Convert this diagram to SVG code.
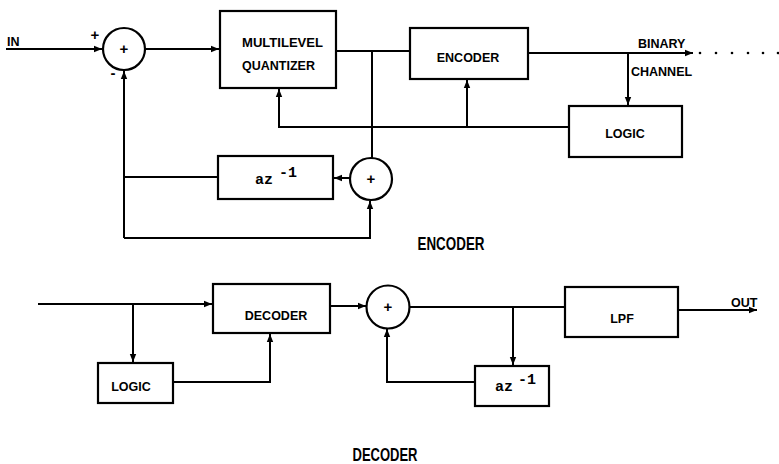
<svg xmlns="http://www.w3.org/2000/svg" width="779" height="464" viewBox="0 0 779 464">
<style>
.box{fill:#fff;stroke:#000;stroke-width:2.2}
.sum{fill:#fff;stroke:#000;stroke-width:2.2}
.ln{fill:none;stroke:#000;stroke-width:2;stroke-linejoin:miter}
.t{font-family:"Liberation Sans",Arial,sans-serif;font-weight:bold;font-size:12.5px;fill:#000}
.tc{text-anchor:middle}
.m{font-family:"Liberation Mono","Courier New",monospace;font-weight:bold;font-size:15px;fill:#000}
.big{font-family:"Liberation Sans",Arial,sans-serif;font-weight:bold;font-size:19px;fill:#000;text-anchor:middle}
.pl{font-family:"Liberation Sans",Arial,sans-serif;font-weight:bold;font-size:15px;fill:#000;text-anchor:middle}
</style>
<defs>
<marker id="ah" viewBox="0 0 10 10" refX="10" refY="5" markerWidth="4" markerHeight="4" markerUnits="strokeWidth" orient="auto">
<path d="M0,1 L10,5 L0,9 z" fill="#000"/>
</marker>
</defs>

<g id="connectors">
<!-- encoder -->
<path class="ln" d="M6,49 H102" marker-end="url(#ah)"/>
<path class="ln" d="M145,49 H219" marker-end="url(#ah)"/>
<path class="ln" d="M124,238 V71" marker-end="url(#ah)"/>
<path class="ln" d="M336,51 H409"/>
<path class="ln" d="M372,51 V158"/>
<path class="ln" d="M528,53 H693" marker-end="url(#ah)"/>
<path class="ln" d="M628,53 V105" marker-end="url(#ah)"/>
<path class="ln" d="M569,127 H279 V89" marker-end="url(#ah)"/>
<path class="ln" d="M467,127 V80" marker-end="url(#ah)"/>
<path class="ln" d="M350,178 H334" marker-end="url(#ah)"/>
<path class="ln" d="M218,177 H124"/>
<path class="ln" d="M124,238 H370 V201" marker-end="url(#ah)"/>
<g fill="#000">
<circle cx="700" cy="53" r="1.3"/><circle cx="716" cy="53" r="1.3"/><circle cx="732" cy="53" r="1.3"/><circle cx="748" cy="53" r="1.3"/><circle cx="763" cy="53" r="1.3"/><circle cx="778" cy="53" r="1.3"/>
</g>
<!-- decoder -->
<path class="ln" d="M38,304 H212" marker-end="url(#ah)"/>
<path class="ln" d="M133,304 V362" marker-end="url(#ah)"/>
<path class="ln" d="M173,382 H270 V334" marker-end="url(#ah)"/>
<path class="ln" d="M330,306 H366" marker-end="url(#ah)"/>
<path class="ln" d="M410,307 H564"/>
<path class="ln" d="M513,307 V365" marker-end="url(#ah)"/>
<path class="ln" d="M475,382 H387 V329" marker-end="url(#ah)"/>
<path class="ln" d="M678,310 H757" marker-end="url(#ah)"/>
</g>

<g id="sum1">
<circle class="sum" cx="124" cy="49" r="21"/>
<text class="pl" x="124" y="54">+</text>
<text class="pl" x="95" y="40">+</text>
<text class="pl" x="113" y="78">-</text>
</g>
<g id="in-label"><text class="t" x="7" y="46">IN</text></g>

<g id="quantizer">
<rect class="box" x="220" y="11" width="116" height="77"/>
<text class="t" x="242" y="47" textLength="81" lengthAdjust="spacingAndGlyphs">MULTILEVEL</text>
<text class="t" x="242" y="70" textLength="73" lengthAdjust="spacingAndGlyphs">QUANTIZER</text>
</g>

<g id="encoder-box">
<rect class="box" x="410" y="28" width="118" height="51"/>
<text class="t tc" x="468" y="62">ENCODER</text>
</g>

<g id="channel-label">
<text class="t" x="638" y="48">BINARY</text>
<text class="t" x="631" y="76">CHANNEL</text>
</g>

<g id="logic1">
<rect class="box" x="569" y="106" width="113" height="51"/>
<text class="t tc" x="625" y="138">LOGIC</text>
</g>

<g id="delay1">
<rect class="box" x="218" y="156" width="115" height="43"/>
<text class="m" x="255" y="184">az</text>
<text class="m" x="279" y="177" font-size="13">-1</text>
</g>

<g id="sum2">
<circle class="sum" cx="371" cy="179" r="21"/>
<text class="pl" x="371" y="184">+</text>
</g>

<g id="encoder-title"><text class="big" x="451" y="250" textLength="67" lengthAdjust="spacingAndGlyphs">ENCODER</text></g>

<g id="decoder-box">
<rect class="box" x="213" y="284" width="117" height="49"/>
<text class="t tc" x="276" y="320">DECODER</text>
</g>

<g id="logic2">
<rect class="box" x="98" y="363" width="75" height="40"/>
<text class="t tc" x="131" y="391">LOGIC</text>
</g>

<g id="sum3">
<circle class="sum" cx="388" cy="307" r="21.5"/>
<text class="pl" x="388" y="312">+</text>
</g>

<g id="lpf">
<rect class="box" x="565" y="287" width="113" height="50"/>
<text class="t tc" x="622" y="323">LPF</text>
</g>

<g id="delay2">
<rect class="box" x="475" y="366" width="74" height="40"/>
<text class="m" x="495" y="391">az</text>
<text class="m" x="518" y="384" font-size="13">-1</text>
</g>

<g id="out-label"><text class="t" x="731" y="307">OUT</text></g>

<g id="decoder-title"><text class="big" x="385" y="461" textLength="65" lengthAdjust="spacingAndGlyphs">DECODER</text></g>
</svg>
